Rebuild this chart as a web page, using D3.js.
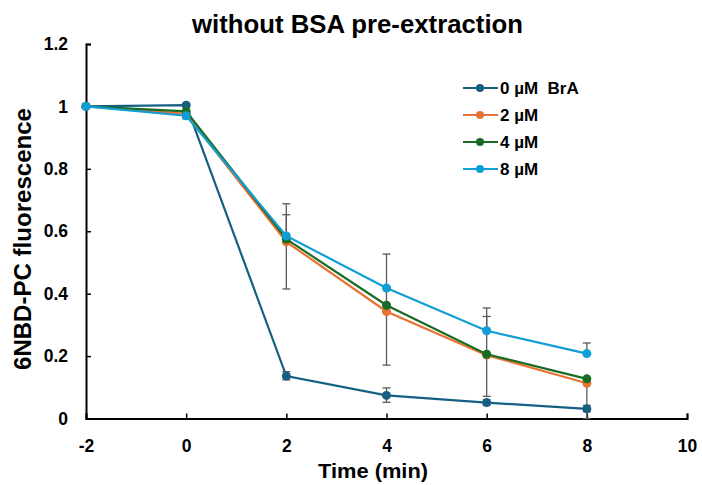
<!DOCTYPE html>
<html><head><meta charset="utf-8">
<script src="https://cdn.jsdelivr.net/npm/d3@7"></script>
<style>body{margin:0;background:#fff}svg{display:block;font-family:"Liberation Sans",Arial,sans-serif}</style>
</head><body><svg id="c" width="702" height="485"></svg>
<script>
const times = [-2, 0, 2, 4, 6, 8];
const seriesNames = ["0 µM\u00A0 BrA", "2 µM", "4 µM", "8 µM"];
const colors = ["#156082", "#E97132", "#196B24", "#0F9ED5"];
const s0 = [1.0, 1.004, 0.136, 0.074, 0.051, 0.031];
const s2 = [1.0, 0.976, 0.566, 0.343, 0.203, 0.113];
const s4 = [1.0, 0.984, 0.575, 0.363, 0.206, 0.127];
const s8 = [1.0, 0.970, 0.585, 0.418, 0.281, 0.208];
// error bar ends (null = none)
const err0Hi = [null, 1.01, 0.150, 0.098, 0.060, 0.042];
const err0Lo = [null, 0.998, 0.124, 0.052, 0.042, 0.022];
const err2Hi = [null, null, 0.653, 0.527, 0.327, null];
const err2Lo = [null, null, 0.415, 0.171, 0.071, 0.0];
const err8Hi = [null, 0.960, 0.688, null, 0.354, 0.242];
const err8Lo = [null, null, null, null, null, null];
const xTicks = [-2, 0, 2, 4, 6, 8, 10];
const yTicks = [0, 0.2, 0.4, 0.6, 0.8, 1, 1.2];

const series = [s0, s2, s4, s8];
const errs = [[err0Hi, err0Lo, s0], [err2Hi, err2Lo, s2], [err8Hi, err8Lo, s8]];

const svg = d3.select("#c");
const x = d3.scaleLinear().domain([-2, 10]).range([86, 687]);
const y = d3.scaleLinear().domain([0, 1.2]).range([418.5, 44]);

// axes
const xAxis = svg.append("g").attr("transform", `translate(0,${y(0)})`)
  .call(d3.axisBottom(x).tickValues(xTicks).tickSize(-5).tickPadding(10).tickFormat(d => d));
const yAxis = svg.append("g").attr("transform", `translate(${x(-2)},0)`)
  .call(d3.axisLeft(y).tickValues(yTicks).tickSize(-5).tickPadding(18).tickFormat(d => d));
[xAxis, yAxis].forEach(g => {
  g.select(".domain").attr("stroke", "#000").attr("stroke-width", 2);
  g.selectAll(".tick line").attr("stroke", "#000").attr("stroke-width", 1.5);
  g.selectAll(".tick text").attr("font-size", 17.5).attr("font-weight", "bold")
    .attr("fill", "#000").attr("font-family", "Liberation Sans, Arial, sans-serif");
});
xAxis.selectAll(".tick text").attr("y", 33).attr("dy", null);

// error bars
const eg = svg.append("g").attr("stroke", "#595959").attr("stroke-width", 1.3);
errs.forEach(([hi, lo, v]) => {
  times.forEach((t, i) => {
    const top = hi[i] != null ? hi[i] : v[i];
    const bot = lo[i] != null ? lo[i] : v[i];
    if (hi[i] == null && lo[i] == null) return;
    eg.append("line").attr("x1", x(t)).attr("x2", x(t)).attr("y1", y(top)).attr("y2", y(bot));
    if (hi[i] != null) eg.append("line").attr("x1", x(t) - 4).attr("x2", x(t) + 4).attr("y1", y(hi[i])).attr("y2", y(hi[i]));
    if (lo[i] != null) eg.append("line").attr("x1", x(t) - 4).attr("x2", x(t) + 4).attr("y1", y(lo[i])).attr("y2", y(lo[i]));
  });
});

// lines
const line = d3.line().x((d, i) => x(times[i])).y(d => y(d));
series.forEach((s, k) => {
  svg.append("path").datum(s).attr("d", line).attr("fill", "none")
    .attr("stroke", colors[k]).attr("stroke-width", 2.2);
  svg.append("g").selectAll("circle").data(s).join("circle")
    .attr("cx", (d, i) => x(times[i])).attr("cy", d => y(d)).attr("r", 4.5)
    .attr("fill", colors[k]);
});

// legend
const lg = svg.append("g");
seriesNames.forEach((n, k) => {
  const yy = 88 + k * 27;
  lg.append("line").attr("x1", 463).attr("x2", 498).attr("y1", yy).attr("y2", yy)
    .attr("stroke", colors[k]).attr("stroke-width", 2.2);
  lg.append("circle").attr("cx", 480).attr("cy", yy).attr("r", 4).attr("fill", colors[k]);
  lg.append("text").attr("x", 500).attr("y", yy).attr("dy", "0.36em")
    .attr("font-size", 17).attr("font-weight", "bold").attr("fill", "#000").text(n);
});

// titles
svg.append("text").attr("x", 192).attr("y", 33)
  .attr("textLength", 331).attr("lengthAdjust", "spacingAndGlyphs")
  .attr("font-size", 26).attr("font-weight", "bold").text("without BSA pre-extraction");
svg.append("text").attr("x", 318).attr("y", 478)
  .attr("textLength", 110).attr("lengthAdjust", "spacingAndGlyphs")
  .attr("font-size", 20).attr("font-weight", "bold").text("Time (min)");
svg.append("text").attr("transform", "translate(31,370) rotate(-90)")
  .attr("textLength", 262).attr("lengthAdjust", "spacingAndGlyphs")
  .attr("font-size", 23).attr("font-weight", "bold").text("6NBD-PC fluorescence");
</script></body></html>
